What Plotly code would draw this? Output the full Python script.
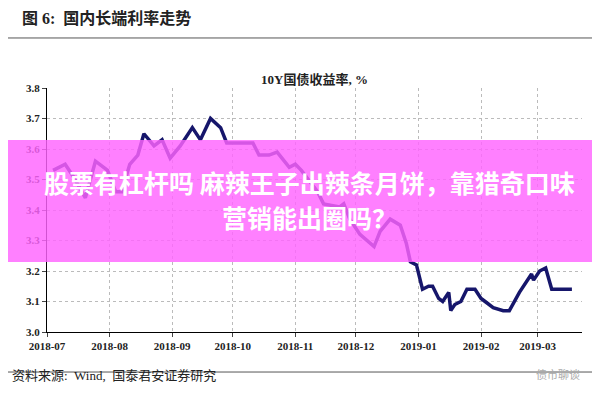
import plotly.graph_objects as go

# 10Y government bond yield
dates = ["2018-07-04", "2018-07-10", "2018-07-14", "2018-07-20", "2018-07-25", "2018-07-31",
         "2018-08-04", "2018-08-07", "2018-08-11", "2018-08-15", "2018-08-18", "2018-08-23",
         "2018-08-27", "2018-08-31", "2018-09-05", "2018-09-11", "2018-09-15", "2018-09-20",
         "2018-09-25", "2018-09-28", "2018-10-11", "2018-10-14", "2018-10-19", "2018-10-23",
         "2018-10-29", "2018-11-01", "2018-11-04", "2018-11-12", "2018-11-15", "2018-11-23",
         "2018-11-25", "2018-11-28", "2018-12-03", "2018-12-10", "2018-12-13", "2018-12-18",
         "2018-12-23", "2018-12-26", "2018-12-28", "2018-12-31", "2019-01-03", "2019-01-06",
         "2019-01-08", "2019-01-11", "2019-01-13", "2019-01-16", "2019-01-17", "2019-01-19",
         "2019-01-22", "2019-01-25", "2019-01-29", "2019-02-01", "2019-02-03", "2019-02-07",
         "2019-02-12", "2019-02-15", "2019-02-20", "2019-02-23", "2019-02-26", "2019-02-27",
         "2019-03-02", "2019-03-05", "2019-03-08", "2019-03-11", "2019-03-14", "2019-03-18"]
yields = [3.53, 3.55, 3.51, 3.44, 3.56, 3.53,
          3.46, 3.46, 3.55, 3.58, 3.65, 3.61,
          3.63, 3.57, 3.61, 3.67, 3.63, 3.70,
          3.67, 3.62, 3.62, 3.58, 3.58, 3.59,
          3.54, 3.55, 3.53, 3.46, 3.42, 3.41,
          3.42, 3.37, 3.32, 3.28, 3.33, 3.37,
          3.35, 3.29, 3.23, 3.22, 3.14, 3.15,
          3.15, 3.11, 3.10, 3.13, 3.07, 3.09,
          3.10, 3.14, 3.14, 3.11, 3.10, 3.08,
          3.07, 3.07, 3.13, 3.16, 3.19, 3.17,
          3.20, 3.21, 3.14, 3.14, 3.14, 3.14]
tick_dates = ["2018-07-01", "2018-08-01", "2018-09-01", "2018-10-01", "2018-11-01",
              "2018-12-01", "2019-01-01", "2019-02-01", "2019-03-01"]
tick_text = ["2018-07", "2018-08", "2018-09", "2018-10", "2018-11",
             "2018-12", "2019-01", "2019-02", "2019-03"]
y_ticks = [3.0, 3.1, 3.2, 3.3, 3.4, 3.5, 3.6, 3.7, 3.8]

serif = "Liberation Serif, Noto Sans CJK SC"

fig = go.Figure(go.Scatter(x=dates, y=yields, mode="lines",
                           line=dict(color="#16166b", width=3.5)))

fig.update_layout(
    width=600, height=400, margin=dict(l=39, r=26, t=80, b=76, autoexpand=False),
    paper_bgcolor="white", plot_bgcolor="white", showlegend=False,
    font=dict(family=serif, color="#222"),
)
fig.update_xaxes(range=["2018-07-01", "2019-03-23"], tickvals=tick_dates,
                 ticktext=["<b>%s</b>" % t for t in tick_text],
                 tickfont=dict(size=11, family=serif), showline=True, linecolor="black",
                 ticks="outside", ticklen=4, showgrid=True, gridcolor="#bbb", griddash="dot")
fig.update_yaxes(range=[3.0, 3.8], tickvals=y_ticks,
                 ticktext=["<b>%.1f</b>" % v for v in y_ticks],
                 tickfont=dict(size=11, family=serif), showline=True, linecolor="black",
                 ticks="outside", ticklen=4, showgrid=True, gridcolor="#bbb", griddash="dot")

fig.add_annotation(text="<b>图 6:  国内长端利率走势</b>", x=-0.05, y=1.287, xref="paper", yref="paper",
                   showarrow=False, xanchor="left", yanchor="middle", font=dict(size=16))
fig.add_annotation(text="<b>10Y国债收益率, %</b>", x=0.5, xref="paper", y=1.074, yref="paper",
                   showarrow=False, font=dict(size=13))
fig.add_annotation(text="资料来源:  Wind,  国泰君安证券研究", x=-0.07, xref="paper", y=-0.217,
                   yref="paper", showarrow=False, xanchor="left", font=dict(size=13))
fig.add_annotation(text="债市聊谈", x=1.0, xref="paper", y=-0.21, yref="paper",
                   showarrow=False, xanchor="right", font=dict(size=11, color="#aaa"))

# header rules
fig.add_shape(type="line", xref="paper", yref="paper", x0=-0.08, x1=1.03, y0=1.205, y1=1.205,
              line=dict(color="#555", width=1))
fig.add_shape(type="line", xref="paper", yref="paper", x0=-0.08, x1=1.03, y0=-0.164, y1=-0.164,
              line=dict(color="#555", width=1))

# pink overlay band with headline text
fig.add_shape(type="rect", xref="paper", yref="paper", x0=-0.1, x1=1.1, y0=0.287, y1=0.787,
              fillcolor="rgba(255,100,255,0.82)", line=dict(width=0), layer="above")
headline_font = dict(size=25, color="white", family="Noto Sans CJK SC")
fig.add_annotation(text="<b>股票有杠杆吗 麻辣王子出辣条月饼，靠猎奇口味</b>",
                   x=0.49, xref="paper", y=0.613, yref="paper", showarrow=False, font=headline_font)
fig.add_annotation(text="<b>营销能出圈吗？</b>",
                   x=0.49, xref="paper", y=0.47, yref="paper", showarrow=False, font=headline_font)

fig.write_html("out.html")
